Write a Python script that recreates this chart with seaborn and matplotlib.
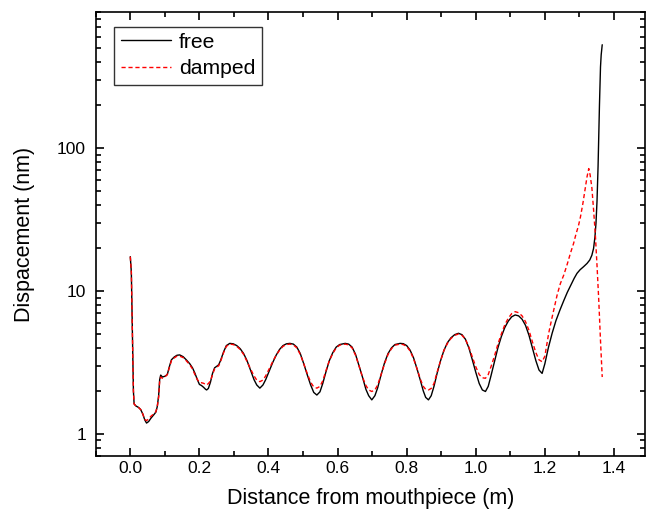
import numpy as np
import pandas as pd
import matplotlib
matplotlib.use('Agg')
import matplotlib.pyplot as plt
import matplotlib.ticker as mticker
import seaborn as sns

sns.set_style('ticks')
plt.rcParams['font.family'] = ['Liberation Sans', 'DejaVu Sans']
plt.rcParams['text.color'] = 'black'
plt.rcParams['axes.labelcolor'] = 'black'

# free oscillation
x_free = [0.0, 0.003, 0.006, 0.009, 0.011, 0.016, 0.024, 0.03, 0.036, 0.042, 0.047, 0.053,
          0.06, 0.068, 0.074, 0.078, 0.082, 0.085, 0.088, 0.093, 0.1, 0.107, 0.113, 0.119,
          0.127, 0.135, 0.143, 0.153, 0.162, 0.172, 0.18, 0.187, 0.194, 0.2, 0.206, 0.212,
          0.218, 0.221, 0.226, 0.232, 0.238, 0.244, 0.25, 0.256, 0.262, 0.27, 0.278, 0.288,
          0.298, 0.308, 0.318, 0.328, 0.338, 0.348, 0.358, 0.366, 0.375,
          0.384, 0.392, 0.402, 0.412, 0.422, 0.432, 0.442, 0.452, 0.462,
          0.472, 0.482, 0.492, 0.502, 0.512, 0.522, 0.531, 0.54,
          0.549, 0.557, 0.566, 0.576, 0.586, 0.596, 0.606, 0.622,
          0.632, 0.642, 0.652, 0.662, 0.672, 0.682, 0.69, 0.699,
          0.708, 0.716, 0.726, 0.736, 0.746, 0.756, 0.766, 0.781,
          0.79, 0.8, 0.81, 0.82, 0.83, 0.84, 0.848, 0.855, 0.863,
          0.871, 0.879, 0.888, 0.898, 0.908, 0.918, 0.928, 0.939, 0.95,
          0.96, 0.97, 0.98, 0.99, 1.0, 1.01, 1.019, 1.028,
          1.036, 1.044, 1.054, 1.064, 1.074, 1.084, 1.094, 1.104, 1.114,
          1.124, 1.134, 1.144, 1.154, 1.164, 1.174, 1.183, 1.192,
          1.2, 1.21, 1.221, 1.232, 1.244, 1.255, 1.265, 1.275, 1.285, 1.293, 1.302, 1.312,
          1.322, 1.33, 1.336, 1.341, 1.345, 1.348, 1.351, 1.354, 1.356, 1.358, 1.361, 1.363,
          1.366]
y_free = [17.4, 13.5, 5.0, 2.0, 1.62, 1.57, 1.53, 1.48, 1.38, 1.25, 1.19, 1.22,
          1.29, 1.36, 1.42, 1.55, 1.85, 2.4, 2.58, 2.5, 2.53, 2.6, 2.95, 3.3,
          3.45, 3.55, 3.57, 3.47, 3.3, 3.1, 2.9, 2.66, 2.4, 2.22, 2.18, 2.12,
          2.05, 2.03, 2.08, 2.3, 2.65, 2.9, 2.97, 3.05, 3.3, 3.75, 4.15, 4.3,
          4.27, 4.15, 3.95, 3.65, 3.25, 2.8, 2.4, 2.2, 2.09,
          2.2, 2.4, 2.75, 3.15, 3.55, 3.9, 4.15, 4.27, 4.3,
          4.25, 4.05, 3.65, 3.1, 2.6, 2.2, 1.95, 1.87,
          1.97, 2.25, 2.7, 3.25, 3.7, 4.05, 4.22, 4.3,
          4.25, 4.05, 3.6, 3.0, 2.5, 2.05, 1.85, 1.73,
          1.85, 2.1, 2.6, 3.15, 3.65, 4.0, 4.22, 4.3,
          4.28, 4.15, 3.85, 3.4, 2.85, 2.35, 2.0, 1.8, 1.73,
          1.85, 2.15, 2.65, 3.25, 3.85, 4.35, 4.7, 4.95, 5.06,
          4.95, 4.6, 4.0, 3.3, 2.7, 2.25, 2.03, 1.98,
          2.15, 2.55, 3.2, 4.0, 4.8, 5.55, 6.15, 6.6, 6.8,
          6.7, 6.35, 5.75, 4.9, 4.0, 3.25, 2.8, 2.65,
          3.1, 4.0, 5.06, 6.2, 7.4, 8.6, 9.8, 11.0, 12.3, 13.3, 14.1, 14.8,
          15.6, 16.5, 17.8, 19.9, 24.0, 30.0, 43.0, 75.0, 126.0, 200.0, 370.0, 450.0,
          530.0]

# damped oscillation (same sampling as free up to x = 1.192, own tail after)
x_damp = x_free[:141] + [1.2, 1.211, 1.22, 1.228, 1.236, 1.245, 1.255, 1.265, 1.274,
                         1.283, 1.29, 1.297, 1.303, 1.31, 1.317, 1.322, 1.327, 1.331,
                         1.336, 1.341, 1.346, 1.351, 1.356, 1.361, 1.366]
y_damp = [17.4, 13.5, 5.0, 2.0, 1.62, 1.57, 1.53, 1.48, 1.38, 1.26, 1.24, 1.27,
          1.33, 1.38, 1.43, 1.55, 1.8, 2.35, 2.5, 2.45, 2.5, 2.6, 2.9, 3.25,
          3.4, 3.5, 3.5, 3.42, 3.25, 3.05, 2.85, 2.6, 2.4, 2.3, 2.28, 2.26,
          2.22, 2.2, 2.25, 2.35, 2.6, 2.85, 2.93, 3.0, 3.25, 3.7, 4.1, 4.25,
          4.22, 4.1, 3.9, 3.6, 3.2, 2.85, 2.55, 2.38, 2.32,
          2.38, 2.55, 2.85, 3.2, 3.55, 3.85, 4.1, 4.22, 4.25,
          4.2, 4.0, 3.6, 3.1, 2.65, 2.3, 2.13, 2.09,
          2.15, 2.35, 2.75, 3.25, 3.65, 4.0, 4.18, 4.25,
          4.2, 4.0, 3.55, 3.0, 2.5, 2.18, 2.03, 1.98,
          2.03, 2.2, 2.6, 3.1, 3.6, 3.95, 4.18, 4.25,
          4.22, 4.1, 3.8, 3.35, 2.85, 2.4, 2.15, 2.05, 2.03,
          2.08, 2.25, 2.7, 3.25, 3.85, 4.3, 4.65, 4.9, 5.0,
          4.9, 4.6, 4.05, 3.45, 2.95, 2.6, 2.47, 2.45,
          2.6, 2.95, 3.5, 4.25, 5.0, 5.8, 6.45, 6.95, 7.17,
          7.05, 6.7, 6.1, 5.3, 4.4, 3.7, 3.3, 3.2,
          3.5, 5.06, 6.4, 7.8, 9.5, 11.3, 13.0, 15.5, 18.4,
          21.5, 25.0, 28.5, 33.0, 41.0, 53.0, 63.0, 72.0, 65.0,
          53.0, 37.0, 25.0, 15.0, 8.6, 4.5, 2.5]

df_free = pd.DataFrame({'x': x_free, 'y': y_free})
df_damp = pd.DataFrame({'x': x_damp, 'y': y_damp})

fig = plt.figure(figsize=(6.47, 5.17), dpi=100)
ax = fig.add_axes([0.148, 0.118, 0.849, 0.859])

sns.lineplot(data=df_free, x='x', y='y', ax=ax, color='black', lw=1.0, label='free')
sns.lineplot(data=df_damp, x='x', y='y', ax=ax, color='red', lw=1.0,
             linestyle=(0, (3, 2)), label='damped')

ax.set_yscale('log')
ax.set_xlim(-0.1, 1.49)
ax.set_ylim(0.7, 900)
ax.xaxis.set_major_locator(mticker.MultipleLocator(0.2))
ax.xaxis.set_minor_locator(mticker.MultipleLocator(0.1))
ax.xaxis.set_major_formatter(mticker.FormatStrFormatter('%.1f'))
ax.yaxis.set_major_formatter(mticker.FuncFormatter(lambda v, p: f'{v:g}'))
ax.yaxis.set_minor_formatter(mticker.NullFormatter())

ax.tick_params(which='both', direction='in', top=True, right=True, width=1.2,
               labelsize=12.5, colors='black')
ax.tick_params(which='major', length=6)
ax.tick_params(which='minor', length=3.5)
ax.tick_params(axis='y', which='both', pad=7)
for s in ax.spines.values():
    s.set_linewidth(1.2)
    s.set_color('black')

ax.set_xlabel('Distance from mouthpiece (m)', fontsize=15.5, labelpad=9, color='black')
ax.set_ylabel('Dispacement (nm)', fontsize=15.5, labelpad=16, color='black')

leg = ax.legend(loc='upper left', bbox_to_anchor=(0.034, 0.967), fontsize=15.2,
                handlelength=2.4, frameon=True, fancybox=False, borderaxespad=0,
                handletextpad=0.35, labelspacing=0.35, borderpad=0.3)
leg.get_frame().set_edgecolor('black')
leg.get_frame().set_linewidth(1.0)
for t in leg.get_texts():
    t.set_color('black')

fig.savefig('out.png', dpi=100)
